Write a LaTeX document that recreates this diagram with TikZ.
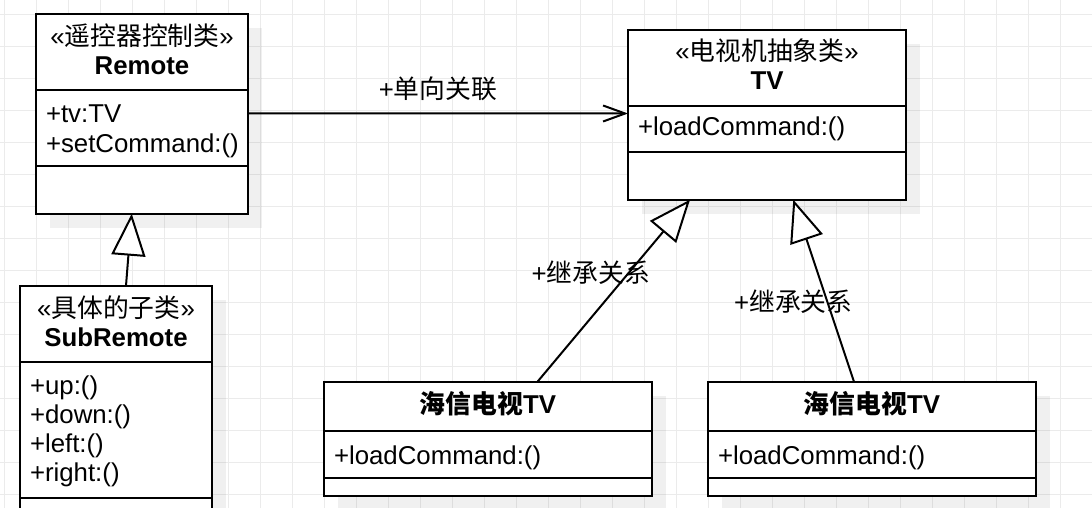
\documentclass[tikz,border=0pt]{standalone}
\usepackage{fontspec}
\setmainfont{Liberation Sans}
\newfontfamily\cjk{Noto Sans CJK SC}
\usetikzlibrary{arrows.meta,calc,backgrounds}
\definecolor{gridc}{HTML}{EBEBEB}
\newcommand\mydp[1]{\rule[-#1pt]{0pt}{1pt}}
\newcommand\myht[1]{\rule{0pt}{#1pt}}
\tikzset{
  cls/.style={draw=black, line width=2pt, fill=white, anchor=north west,
    inner xsep=10pt, inner ysep=0pt, outer sep=0pt,
    font=\fontsize{25.8}{28.5}\selectfont},
  lbl/.style={inner sep=0pt, font=\fontsize{25.8}{30}\selectfont},
  assoc/.style={line width=2pt, -{Straight Barb[length=22pt,width=16pt]}},
  inherit/.style={line width=2pt, -{Triangle[length=42pt,width=34pt,fill=white]}},
  shadowfill/.style={fill=black, fill opacity=0.06},
}
\begin{document}
\begin{tikzpicture}[x=1pt,y=-1pt]
\useasboundingbox (0,0) rectangle (1092,508);

% Remote
\node[cls, text width=192, minimum height=76, align=center] (rhead) at (36,14)
  {«{\cjk 遥控器控制类}»\\\textbf{Remote}\mydp{6}};
\node[cls, text width=192, minimum height=76, align=left,
  font=\fontsize{25.8}{30}\selectfont] (rattr) at (rhead.south west)
  {\myht{24}+tv:TV\\+setCommand:()};
\node[cls, text width=192, minimum height=47.7] (rmeth) at (rattr.south west) {};

% SubRemote
\node[cls, text width=172, minimum height=76, align=center] (shead) at (20,285.7)
  {«{\cjk 具体的子类}»\\\textbf{SubRemote}\mydp{5}};
\node[cls, text width=172, minimum height=136.3, align=left,
  font=\fontsize{25.8}{29}\selectfont] (smeth) at (shead.south west)
  {\myht{22}+up:()\\+down:()\\+left:()\\+right:()};
\node[cls, text width=172, minimum height=47] (sbot) at (smeth.south west) {};

% TV
\node[cls, text width=258, minimum height=76.3, align=center,
  font=\fontsize{25.8}{29.3}\selectfont] (tvhead) at (628,29.7)
  {«{\cjk 电视机抽象类}»\\\textbf{TV}\mydp{7}};
\node[cls, text width=258, minimum height=46, align=left] (tvattr) at (tvhead.south west)
  {+loadCommand:()};
\node[cls, text width=258, minimum height=47.7] (tvmeth) at (tvattr.south west) {};

% Hisense 1
\node[cls, text width=308, minimum height=49.6, align=center] (h1head) at (324,381.7)
  {\textbf{{\cjk 海信电视}TV}\mydp{8}};
\node[cls, text width=308, minimum height=46.4, align=left] (h1attr) at (h1head.south west)
  {\myht{25}+loadCommand:()};
\node[cls, text width=308, minimum height=18] (h1meth) at (h1attr.south west) {};

% Hisense 2
\node[cls, text width=308, minimum height=49.6, align=center] (h2head) at (708,381.7)
  {\textbf{{\cjk 海信电视}TV}\mydp{8}};
\node[cls, text width=308, minimum height=46.4, align=left] (h2attr) at (h2head.south west)
  {\myht{25}+loadCommand:()};
\node[cls, text width=308, minimum height=18] (h2meth) at (h2attr.south west) {};

% connectors
\draw[assoc] ($(rattr.north east)+(0,23.5)$) --
  node[lbl, midway, yshift=24.5pt] (l0) {+{\cjk 单向关联}}
  ($(tvattr.north west)+(0,7.5)$);
\draw[inherit] ($(shead.north west)+(106,0)$) -- ($(rmeth.south west)+(95.7,0)$);
\draw[inherit] ($(h1head.north west)+(213.5,0)$) --
  node[lbl, pos=0.598, xshift=-38pt] (l1) {+{\cjk 继承关系}}
  ($(tvmeth.south west)+(62,0)$);
\draw[inherit] ($(h2head.north west)+(146,0)$) --
  node[lbl, pos=0.44, xshift=-34pt] (l2) {+{\cjk 继承关系}}
  ($(tvmeth.south west)+(165.3,0)$);

\begin{scope}[on background layer]
  \foreach \i in {0,...,34}
    \draw[gridc, line width=1pt] (4.3+32*\i,0) -- (4.3+32*\i,508);
  \foreach \j in {0,...,15}
    \draw[gridc, line width=1pt] (0,14.5+32*\j) -- (1092,14.5+32*\j);
  \fill[shadowfill] ($(rhead.north west)+(14,14)$) rectangle ($(rmeth.south east)+(14,14)$);
  \fill[shadowfill] ($(shead.north west)+(14,14)$) rectangle ($(sbot.south east)+(14,14)$);
  \fill[shadowfill] ($(tvhead.north west)+(14,14)$) rectangle ($(tvmeth.south east)+(14,14)$);
  \fill[shadowfill] ($(h1head.north west)+(14,14)$) rectangle ($(h1meth.south east)+(14,14)$);
  \fill[shadowfill] ($(h2head.north west)+(14,14)$) rectangle ($(h2meth.south east)+(14,14)$);
\end{scope}
\end{tikzpicture}
\end{document}
